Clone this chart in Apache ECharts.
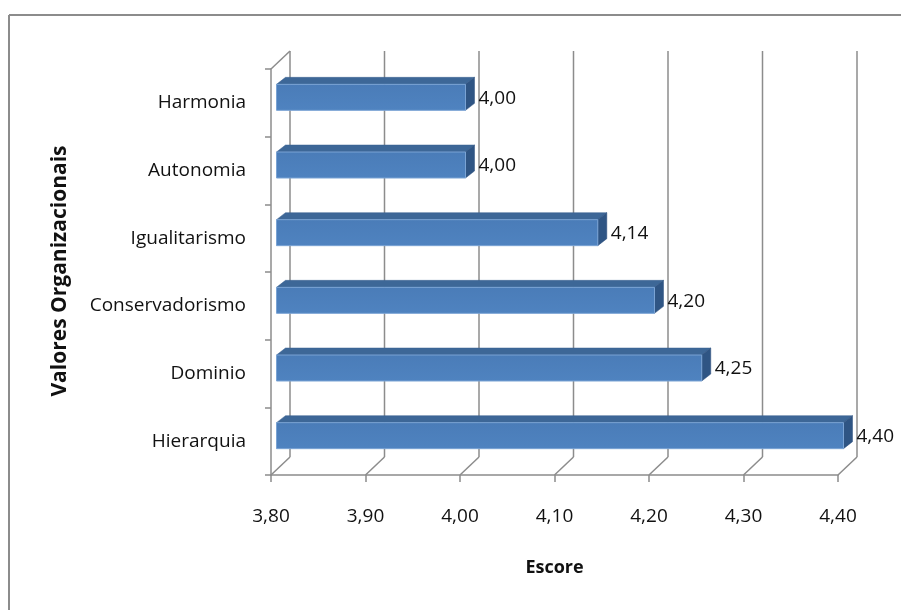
<!DOCTYPE html>
<html>
<head>
<meta charset="utf-8">
<script src="https://cdn.jsdelivr.net/npm/echarts@6/dist/echarts.min.js"></script>
<style>
  html, body { margin: 0; padding: 0; background: #fff; }
  #chart { width: 901px; height: 610px; }
</style>
</head>
<body>
<div id="chart"></div>
<script>
// Organisational values and their mean scores (bottom to top)
const categories = ['Hierarquia', 'Dominio', 'Conservadorismo', 'Igualitarismo', 'Autonomia', 'Harmonia'];
const scores = [4.40, 4.25, 4.20, 4.14, 4.00, 4.00];
const axisMin = 3.8;
const axisMax = 4.4;
const axisStep = 0.1;
const xTitle = 'Escore';
const yTitle = 'Valores Organizacionais';

const FONT = '"Open Sans", "Noto Sans", sans-serif';
const LINE = '#8c8c8c';
const TEXT = '#111';

// Depth of the 3D walls and of the bars
const WALL_DX = 19, WALL_DY = -18;
const BAR_SHIFT = 5.5;      // bars sit a little behind the front plane
const BAR_DX = 9, BAR_DY = -7;
const BAR_HALF = 13;

const fmt = v => v.toFixed(2).replace('.', ',');

const tickValues = [];
for (let i = 0; Math.round(axisMin * 10 + i) <= Math.round(axisMax * 10); i++) {
  tickValues.push(+(axisMin + i * axisStep).toFixed(2));
}

const chart = echarts.init(document.getElementById('chart'), null, { renderer: 'canvas' });

function renderWalls(params, api) {
  if (params.dataIndex !== 0) return;
  const cs = params.coordSys;
  const top = cs.y, bottom = cs.y + cs.height;
  const children = [];
  const line = (x1, y1, x2, y2) => ({
    type: 'line',
    shape: { x1, y1, x2, y2 },
    style: { stroke: LINE, lineWidth: 1.5 }
  });
  tickValues.forEach(v => {
    const x = api.coord([v, 0])[0];
    // floor diagonal and back-wall gridline
    children.push(line(x, bottom, x + WALL_DX, bottom + WALL_DY));
    children.push(line(x + WALL_DX, bottom + WALL_DY, x + WALL_DX, top + WALL_DY));
  });
  // top edge of the side wall
  children.push(line(cs.x, top, cs.x + WALL_DX, top + WALL_DY));
  return { type: 'group', children };
}

function renderBar(params, api) {
  const val = api.value(0);
  const cat = api.value(1);
  const p = api.coord([val, cat]);
  const x0 = api.coord([axisMin, cat])[0] + BAR_SHIFT;
  const x1 = p[0] + BAR_SHIFT;
  const yc = p[1] - BAR_SHIFT;
  const ft = yc - BAR_HALF, fb = yc + BAR_HALF;
  return {
    type: 'group',
    children: [
      {
        type: 'polygon',
        shape: { points: [[x0, ft], [x0 + BAR_DX, ft + BAR_DY], [x1 + BAR_DX, ft + BAR_DY], [x1, ft]] },
        style: { fill: '#3d6797', stroke: '#3a6090', lineWidth: 0.5 }
      },
      {
        type: 'polygon',
        shape: { points: [[x1, ft], [x1 + BAR_DX, ft + BAR_DY], [x1 + BAR_DX, fb + BAR_DY], [x1, fb]] },
        style: { fill: '#2f5584', stroke: '#2c4f7c', lineWidth: 0.5 }
      },
      {
        type: 'rect',
        shape: { x: x0, y: ft, width: x1 - x0, height: fb - ft },
        style: {
          fill: new echarts.graphic.LinearGradient(0, 0, 0, 1, [
            { offset: 0, color: '#4a7cb8' },
            { offset: 1, color: '#4f83c0' }
          ]),
          stroke: '#7aa3d4', lineWidth: 1
        }
      },
      {
        type: 'text',
        x: x1 + BAR_DX + 4,
        y: yc + 1,
        style: {
          text: fmt(val),
          font: '19px ' + FONT,
          fill: TEXT,
          align: 'left',
          verticalAlign: 'middle'
        }
      }
    ]
  };
}

chart.setOption({
  animation: false,
  backgroundColor: '#fff',
  grid: { left: 271, right: 63, top: 69, bottom: 135 },
  xAxis: {
    type: 'value',
    min: axisMin,
    max: axisMax,
    interval: axisStep,
    name: xTitle,
    nameLocation: 'middle',
    nameGap: 84,
    nameTextStyle: { fontFamily: FONT, fontSize: 18, fontWeight: 'bold', color: TEXT },
    axisLine: { show: true, lineStyle: { color: LINE, width: 1.5 } },
    axisTick: { show: true, length: 7, lineStyle: { color: LINE, width: 1.5 } },
    axisLabel: { margin: 32, fontFamily: FONT, fontSize: 19, color: TEXT, formatter: v => fmt(v) },
    splitLine: { show: false }
  },
  yAxis: {
    type: 'category',
    data: categories,
    axisLine: { show: true, lineStyle: { color: LINE, width: 1.5 } },
    axisTick: { show: true, length: 6, lineStyle: { color: LINE, width: 1.5 } },
    axisLabel: { margin: 25, fontFamily: FONT, fontSize: 19, color: TEXT },
    splitLine: { show: false }
  },
  graphic: [
    { type: 'line', shape: { x1: 9, y1: 15, x2: 901, y2: 15 }, style: { stroke: '#8c8c8c', lineWidth: 2 } },
    { type: 'line', shape: { x1: 9, y1: 15, x2: 9, y2: 610 }, style: { stroke: '#8c8c8c', lineWidth: 2 } },
    {
      type: 'text',
      x: 60, y: 271,
      rotation: Math.PI / 2,
      style: {
        text: yTitle,
        font: 'bold 21px ' + FONT,
        fill: TEXT,
        align: 'center',
        verticalAlign: 'middle'
      }
    }
  ],
  series: [
    {
      type: 'custom',
      renderItem: renderWalls,
      data: [[axisMin, 0]],
      encode: { x: 0, y: 1 },
      z: 1,
      silent: true
    },
    {
      type: 'custom',
      renderItem: renderBar,
      data: scores.map((v, i) => [v, i]),
      encode: { x: 0, y: 1 },
      z: 3
    }
  ]
});
</script>
</body>
</html>
